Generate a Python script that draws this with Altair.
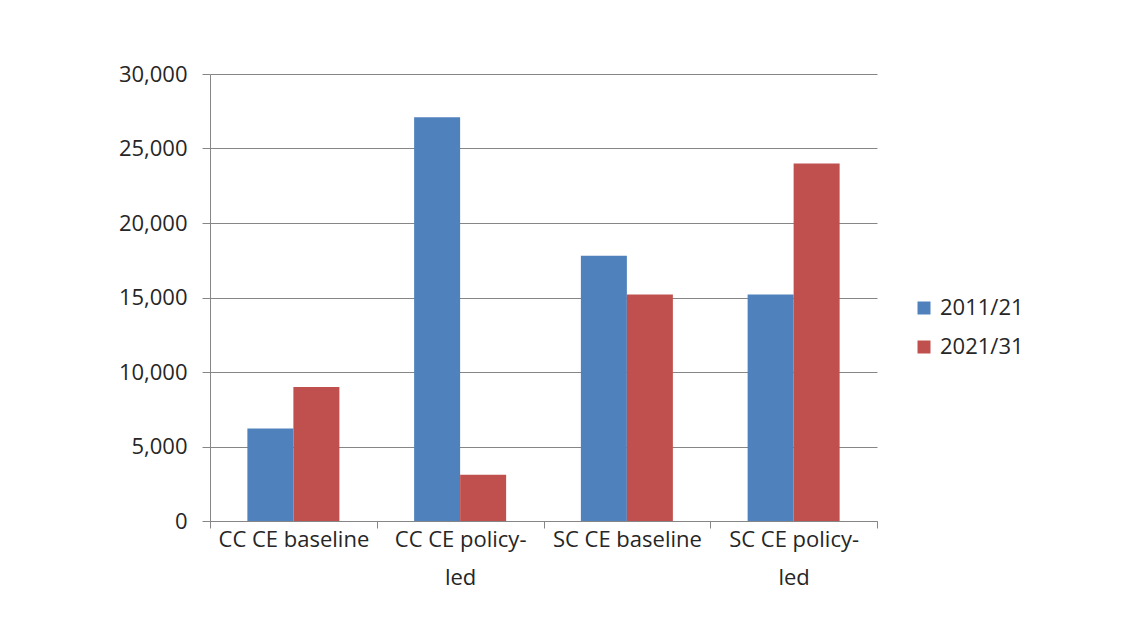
import altair as alt
import pandas as pd

categories = ["CC CE baseline", "CC CE policy-led", "SC CE baseline", "SC CE policy-led"]
series = ["2011/21", "2021/31"]
values_2011_21 = [6200, 27100, 17800, 15200]
values_2021_31 = [9000, 3100, 15200, 24000]
y_ticks = [0, 5000, 10000, 15000, 20000, 25000, 30000]
colors = ["#4F81BD", "#C0504D"]

rows = []
for c, v in zip(categories, values_2011_21):
    rows.append({"category": c, "series": series[0], "value": v})
for c, v in zip(categories, values_2021_31):
    rows.append({"category": c, "series": series[1], "value": v})
df = pd.DataFrame(rows)

FONT = "Open Sans"
TXT = "#262626"
GRID = "#868686"

chart = alt.Chart(df).mark_bar().encode(
    x=alt.X(
        "category:N",
        sort=categories,
        scale=alt.Scale(paddingInner=0, paddingOuter=0),
        axis=alt.Axis(
            title=None,
            labelAngle=0,
            grid=False,
            ticks=True,
            tickBand="extent",
            tickSize=7,
            tickColor=GRID,
            tickWidth=1,
            domainColor=GRID,
            labelPadding=1,
            labelFontSize=22,
            labelFont=FONT,
            labelColor=TXT,
            labelLineHeight=38,
            labelBaseline="top",
            labelExpr="indexof(datum.label, 'policy-') >= 0 ? [replace(datum.label, 'led', ''), 'led'] : datum.label",
        ),
    ),
    xOffset=alt.XOffset(
        "series:N",
        sort=series,
        scale=alt.Scale(paddingInner=0, paddingOuter=0.8125),
    ),
    y=alt.Y(
        "value:Q",
        scale=alt.Scale(domain=[0, 30000], nice=False),
        axis=alt.Axis(
            title=None,
            values=y_ticks,
            format=",.0f",
            grid=True,
            gridColor=GRID,
            gridWidth=1,
            tickColor=GRID,
            tickSize=8,
            domainColor=GRID,
            labelPadding=15,
            labelFontSize=22,
            labelFont=FONT,
            labelColor=TXT,
        ),
    ),
    color=alt.Color(
        "series:N",
        sort=series,
        scale=alt.Scale(domain=series, range=colors),
        legend=alt.Legend(
            title=None,
            orient="none",
            legendX=703,
            legendY=223,
            symbolType="square",
            symbolSize=169,
            symbolStrokeWidth=0,
            labelFontSize=22,
            labelFont=FONT,
            labelColor=TXT,
            labelOffset=5,
            rowPadding=17,
        ),
    ),
).properties(
    width=667,
    height=447,
    background="white",
    autosize=alt.AutoSizeParams(type="none"),
    padding={"left": 202, "top": 66, "right": 258, "bottom": 105},
).configure_view(
    strokeWidth=0
)

chart.save("out.html", embed_options={"renderer": "svg", "actions": False})
